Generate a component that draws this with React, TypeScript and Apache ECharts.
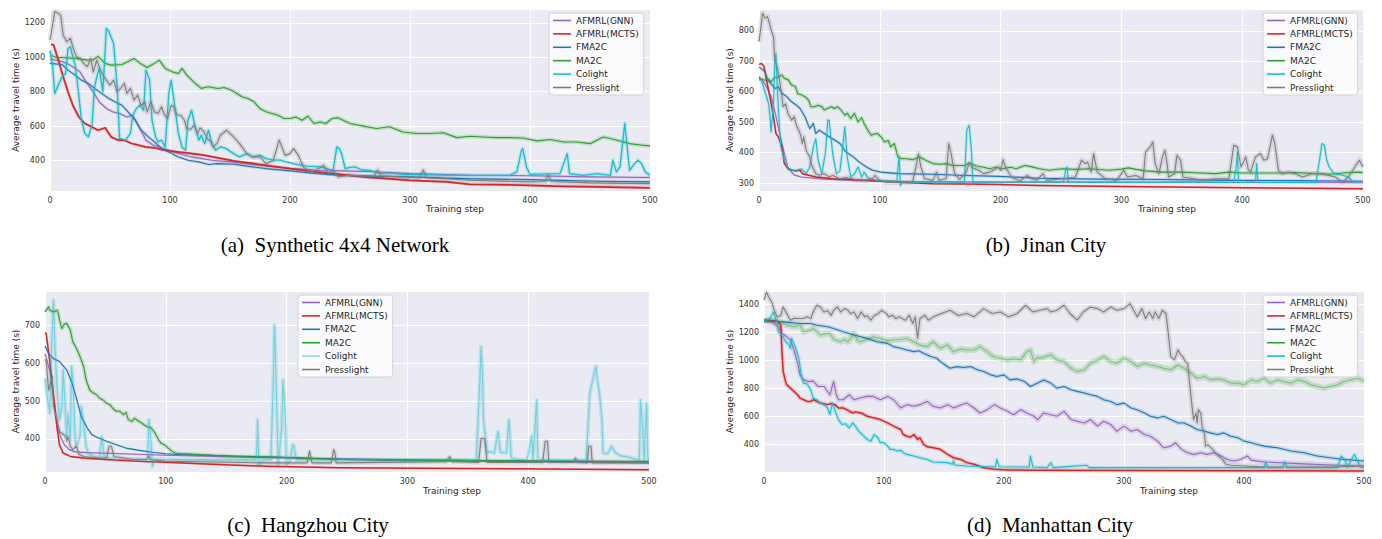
import React, { useEffect, useRef } from "react";
import * as echarts from "echarts";

type P = [number, number][];

const NAMES = ["AFMRL(GNN)", "AFMRL(MCTS)", "FMA2C", "MA2C", "Colight", "Presslight"];
const COLORS = ["#9467bd", "#d62728", "#1f77b4", "#2ca02c", "#17becf", "#7f7f7f"];
const CAPTIONS = ["(a)  Synthetic 4x4 Network", "(b)  Jinan City", "(c)  Hangzhou City", "(d)  Manhattan City"];
const X_TITLE = "Training step";
const Y_TITLE = "Average travel time (s)";
const X_TICKS = [0, 100, 200, 300, 400, 500];
const Y_TICK_STEP = [200, 100, 100, 200];

// ---------- (a) Synthetic 4x4 Network ----------
const A_GNN: P = [[0,990],[10,975],[15,960],[19,944],[25,915],[30,857],[36,799],[41,741],[47,702],[52,683],[58,673],[64,653],[69,663],[75,586],[80,518],[86,489],[91,479],[99,460],[107,441],[118,421],[129,408],[135,402],[150,392],[175,372],[200,355],[225,342],[245,340],[270,335],[300,324],[350,314],[400,312],[450,305],[500,301]];
const A_MCTS: P = [[1,1075],[3,1070],[7,983],[11,886],[15,799],[19,721],[24,653],[29,615],[35,595],[40,576],[46,590],[51,537],[57,518],[62,518],[68,499],[74,489],[79,479],[87,474],[95,460],[106,450],[117,441],[128,431],[153,398],[180,372],[200,353],[222,334],[242,320],[261,305],[300,285],[331,276],[350,262],[372,260],[400,256],[428,250],[456,247],[500,241]];
const A_FMA2C: P = [[0,964],[10,958],[15,925],[21,896],[26,867],[32,848],[37,819],[43,790],[49,760],[54,741],[60,721],[65,683],[71,634],[76,576],[82,537],[87,508],[93,470],[99,450],[107,421],[115,402],[124,392],[132,377],[139,382],[153,378],[169,363],[180,353],[200,340],[222,324],[242,314],[261,311],[300,305],[344,295],[400,289],[456,280],[500,276]];
const A_MA2C: P = [[0,1012],[5,1000],[12,997],[22,993],[31,983],[36,985],[40,1005],[46,964],[51,954],[60,958],[65,975],[70,993],[76,960],[81,940],[86,960],[91,983],[96,935],[102,915],[107,905],[110,935],[114,896],[121,848],[126,819],[132,828],[140,818],[145,824],[150,812],[155,792],[160,770],[165,760],[170,741],[175,702],[180,683],[185,673],[190,663],[195,644],[200,644],[205,653],[210,634],[215,657],[220,615],[225,624],[230,615],[235,644],[240,649],[250,615],[261,600],[272,586],[283,596],[294,566],[306,557],[317,557],[328,561],[339,533],[350,541],[361,537],[372,533],[383,533],[394,531],[406,514],[417,522],[428,508],[439,508],[450,498],[461,537],[467,528],[478,508],[483,498],[494,489],[500,485]];
const A_COL: P = [[0,1040],[2,960],[4,790],[7,838],[10,886],[13,905],[15,1051],[17,1060],[19,1000],[21,954],[24,780],[26,644],[29,557],[32,538],[35,605],[37,819],[39,886],[41,935],[44,800],[47,1167],[49,1150],[53,1080],[56,828],[58,528],[63,518],[67,557],[69,663],[72,702],[75,721],[78,692],[80,925],[83,870],[85,634],[88,537],[90,508],[93,518],[96,479],[99,789],[101,867],[104,712],[107,557],[110,479],[113,460],[115,634],[118,692],[121,595],[124,518],[126,547],[129,498],[132,576],[135,498],[138,460],[142,479],[147,469],[153,440],[158,421],[164,440],[169,421],[175,431],[180,411],[186,402],[192,402],[197,392],[203,382],[208,375],[214,367],[225,363],[230,355],[236,343],[239,479],[241,470],[243,440],[246,353],[250,360],[254,363],[260,345],[267,343],[275,324],[283,328],[294,320],[344,314],[383,314],[389,334],[393,460],[394,469],[397,363],[400,320],[425,324],[431,440],[433,324],[444,314],[456,324],[467,314],[469,402],[472,334],[475,363],[479,615],[481,479],[483,343],[487,380],[490,402],[493,382],[496,334],[500,314]];
const A_PRESS: P = [[0,1100],[4,1264],[7,1255],[9,1240],[11,1128],[14,1090],[17,1110],[19,1060],[22,1002],[25,995],[28,964],[31,945],[34,993],[36,915],[39,983],[42,925],[45,886],[48,857],[50,838],[53,867],[56,799],[59,820],[62,848],[64,790],[67,819],[70,751],[73,780],[76,721],[79,740],[81,683],[84,741],[87,683],[90,673],[93,712],[95,670],[98,644],[101,721],[103,712],[106,663],[109,663],[112,634],[114,586],[117,580],[120,605],[123,557],[125,590],[128,570],[131,528],[134,508],[136,479],[139,498],[142,547],[147,576],[153,537],[158,498],[164,440],[169,421],[175,421],[180,382],[186,400],[191,518],[196,430],[200,440],[203,469],[207,430],[211,363],[217,334],[222,345],[228,372],[232,324],[236,343],[240,305],[250,315],[260,310],[270,308],[273,345],[276,310],[300,302],[308,300],[311,345],[314,300],[350,285],[400,276],[413,278],[415,315],[418,278],[450,270],[500,266]];

// ---------- (b) Jinan City ----------
const B_GNN: P = [[0,650],[5,625],[10,585],[14,520],[17,465],[21,397],[24,350],[29,327],[35,320],[50,314],[80,308],[120,305],[200,303],[300,303],[400,302],[500,301]];
const B_MCTS: P = [[0,690],[2,693],[4,685],[6,644],[9,583],[12,518],[14,463],[16,452],[19,419],[21,364],[24,347],[30,340],[34,342],[36,331],[42,325],[47,320],[61,314],[89,309],[116,303],[144,298],[171,297],[199,295],[232,292],[300,289],[400,285],[500,281]];
const B_FMA2C: P = [[0,682],[5,666],[7,638],[10,627],[13,611],[16,616],[19,595],[23,584],[27,567],[31,556],[34,545],[38,518],[42,479],[45,496],[47,463],[50,474],[54,463],[58,452],[63,441],[67,430],[72,402],[78,386],[83,369],[89,353],[94,342],[101,336],[116,331],[144,329],[171,325],[199,322],[232,316],[279,313],[334,312],[389,309],[444,308],[500,306]];
const B_MA2C: P = [[0,644],[3,640],[5,638],[7,645],[10,633],[13,647],[16,649],[19,655],[21,644],[24,640],[27,622],[30,618],[32,594],[35,590],[38,584],[41,573],[43,551],[46,551],[49,556],[52,551],[54,540],[57,546],[60,551],[62,545],[65,551],[68,540],[71,523],[73,530],[76,512],[79,529],[82,501],[85,515],[87,496],[90,474],[93,457],[96,462],[98,463],[101,452],[104,435],[107,440],[109,419],[112,430],[115,386],[118,380],[122,380],[127,377],[133,386],[138,375],[144,364],[150,362],[155,364],[160,358],[166,358],[171,358],[174,367],[180,356],[186,352],[191,347],[196,352],[202,347],[208,352],[213,347],[220,358],[225,354],[232,347],[240,342],[251,347],[262,345],[273,347],[290,342],[300,346],[306,350],[312,345],[320,340],[334,336],[350,336],[361,334],[378,331],[389,336],[400,333],[417,333],[433,333],[444,335],[461,331],[472,329],[486,334],[497,336],[500,334]];
const B_COL: P = [[0,640],[2,638],[5,600],[8,560],[9,523],[10,468],[12,560],[13,680],[14,726],[15,620],[17,480],[18,419],[21,375],[25,342],[31,342],[35,347],[39,331],[42,353],[45,419],[47,446],[49,375],[52,331],[55,400],[57,507],[58,507],[61,397],[64,331],[67,340],[69,408],[71,485],[73,386],[76,320],[79,330],[82,353],[85,320],[87,336],[90,318],[95,312],[100,308],[114,306],[116,390],[117,292],[119,303],[170,303],[172,474],[174,490],[176,400],[177,303],[224,303],[252,303],[254,345],[255,353],[256,303],[317,302],[350,304],[393,302],[395,353],[396,400],[397,302],[411,304],[412,364],[413,302],[461,302],[464,375],[466,430],[468,425],[470,375],[472,353],[475,336],[478,330],[483,326],[488,320],[492,303],[500,305]];
const B_PRESS: P = [[0,765],[3,858],[5,842],[7,847],[9,820],[10,803],[12,781],[13,704],[15,682],[17,638],[19,583],[20,551],[22,560],[24,529],[27,507],[29,518],[31,490],[34,463],[36,430],[37,452],[39,408],[42,386],[43,365],[45,347],[47,331],[50,326],[54,331],[58,320],[61,325],[67,314],[72,318],[80,312],[89,309],[94,315],[96,325],[99,312],[105,303],[127,303],[130,353],[132,397],[134,353],[137,315],[144,309],[147,336],[149,309],[155,315],[157,430],[159,397],[162,331],[166,312],[171,331],[174,364],[177,350],[182,342],[186,331],[191,336],[194,342],[198,353],[200,342],[202,377],[204,353],[209,320],[216,307],[222,325],[225,315],[230,309],[235,331],[238,309],[252,314],[262,320],[265,353],[267,375],[270,364],[272,369],[275,336],[277,397],[280,336],[287,314],[296,309],[302,342],[305,320],[312,325],[318,314],[320,402],[324,420],[326,435],[328,364],[331,331],[334,386],[336,408],[338,360],[339,320],[344,331],[346,391],[349,375],[351,320],[360,314],[367,309],[378,314],[389,314],[393,424],[396,419],[399,353],[403,386],[405,346],[407,336],[411,386],[415,397],[418,375],[421,380],[423,419],[425,457],[427,430],[430,342],[433,331],[438,336],[444,331],[450,320],[458,331],[465,331],[472,325],[477,320],[483,303],[488,320],[494,358],[497,375],[500,353]];

// ---------- (c) Hangzhou City ----------
const C_GNN: P = [[0,625],[4,580],[7,510],[10,440],[13,405],[16,385],[20,372],[25,366],[35,364],[45,363],[100,357],[150,353],[200,350],[245,346],[300,343],[400,340],[500,337]];
const C_MCTS: P = [[0,680],[1,678],[4,604],[7,516],[10,429],[12,385],[15,363],[21,354],[32,350],[50,346],[78,341],[105,338],[128,335],[183,328],[244,324],[346,322],[500,319]];
const C_FMA2C: P = [[0,645],[3,625],[7,612],[12,604],[18,582],[22,551],[26,508],[30,459],[35,429],[39,411],[44,403],[51,394],[59,385],[67,376],[78,370],[89,365],[100,361],[111,359],[133,357],[180,353],[236,348],[300,345],[400,342],[500,339]];
const C_MA2C: P = [[0,735],[3,748],[4,739],[7,735],[10,739],[11,731],[12,713],[14,691],[16,703],[18,704],[21,687],[23,656],[26,639],[29,617],[32,591],[34,556],[37,529],[40,521],[43,516],[45,508],[48,503],[51,494],[54,490],[56,481],[59,473],[62,473],[65,464],[67,470],[69,451],[72,446],[74,455],[77,448],[80,442],[84,433],[88,429],[91,416],[94,398],[96,389],[99,385],[102,376],[105,368],[108,363],[112,361],[117,361],[128,359],[156,354],[183,353],[211,350],[244,346],[346,343],[400,342],[500,341]];
const C_COL: P = [[0,560],[1,529],[4,468],[5,599],[7,766],[8,661],[10,529],[12,451],[14,486],[15,582],[17,468],[18,407],[19,468],[21,398],[22,591],[23,556],[25,398],[26,381],[29,407],[30,486],[32,442],[34,381],[36,363],[40,354],[45,350],[47,407],[49,352],[53,350],[59,346],[85,346],[86,451],[87,420],[89,328],[91,346],[175,345],[176,451],[177,330],[180,345],[187,345],[189,556],[190,700],[192,468],[193,330],[196,433],[197,556],[199,451],[200,330],[203,345],[205,385],[206,382],[208,345],[236,346],[263,346],[302,344],[332,346],[354,344],[357,346],[360,556],[361,643],[362,580],[363,450],[366,363],[368,367],[372,363],[375,420],[377,365],[382,363],[384,451],[386,350],[392,346],[399,344],[403,407],[404,345],[407,503],[408,345],[429,344],[448,344],[451,521],[454,564],[456,591],[457,560],[459,521],[461,451],[462,363],[466,362],[469,381],[472,364],[476,356],[484,352],[492,344],[493,503],[495,420],[496,344],[498,494],[499,350],[500,345]];
const C_PRESS: P = [[0,610],[1,604],[3,529],[4,540],[6,565],[7,486],[10,451],[12,420],[14,415],[17,407],[18,395],[19,407],[21,381],[23,372],[26,381],[28,360],[32,354],[45,350],[51,350],[53,381],[55,381],[57,354],[73,346],[84,346],[86,355],[87,346],[100,341],[128,340],[183,337],[217,337],[219,368],[221,337],[237,337],[239,372],[240,365],[241,337],[332,340],[335,354],[337,340],[359,338],[361,402],[364,400],[366,338],[412,338],[414,394],[416,394],[417,338],[438,338],[439,350],[441,338],[449,337],[450,381],[452,381],[453,337],[500,337]];

// ---------- (d) Manhattan City ----------
const D_GNN: P = [[0,1280],[2,1280],[7,1270],[12,1239],[15,1191],[19,1168],[22,1144],[25,1073],[28,978],[30,895],[33,859],[37,847],[41,850],[45,812],[50,812],[53,776],[55,753],[58,847],[60,760],[62,717],[66,717],[71,753],[75,717],[80,729],[86,741],[91,741],[97,717],[103,741],[108,717],[114,658],[119,682],[125,670],[130,682],[136,705],[141,670],[147,658],[153,682],[158,658],[164,680],[169,693],[175,658],[180,622],[186,646],[192,682],[197,658],[203,634],[208,610],[214,646],[219,622],[225,599],[228,575],[233,622],[239,610],[244,599],[250,634],[256,575],[261,563],[267,551],[272,575],[278,528],[283,563],[289,539],[294,492],[300,528],[306,492],[311,504],[317,468],[322,456],[328,421],[333,373],[339,385],[343,409],[348,362],[353,338],[358,326],[364,338],[369,326],[375,338],[381,314],[386,290],[392,279],[397,290],[403,314],[406,285],[417,272],[445,260],[472,250],[500,243]];
const D_MCTS: P = [[0,1286],[2,1286],[11,1280],[14,1251],[15,1061],[16,919],[18,847],[19,824],[22,800],[25,776],[28,753],[30,729],[33,717],[36,705],[39,705],[41,717],[44,705],[47,693],[53,682],[56,690],[59,682],[62,658],[66,658],[69,646],[74,622],[76,630],[81,622],[86,599],[92,587],[97,575],[103,551],[108,528],[111,516],[114,504],[116,468],[119,456],[122,450],[125,468],[128,433],[130,445],[133,397],[136,380],[141,373],[147,362],[153,326],[158,302],[164,290],[169,267],[175,255],[183,231],[192,219],[203,215],[225,212],[300,210],[400,209],[500,208]];
const D_FMA2C: P = [[0,1281],[16,1274],[30,1262],[39,1262],[44,1250],[53,1239],[58,1227],[66,1203],[75,1180],[86,1156],[94,1132],[103,1120],[108,1097],[114,1085],[119,1073],[125,1061],[129,1068],[133,1049],[139,1026],[144,1014],[147,990],[151,966],[155,942],[161,954],[166,948],[172,954],[178,931],[183,919],[189,895],[194,883],[200,895],[205,859],[211,866],[217,848],[222,812],[228,836],[233,859],[239,836],[244,800],[250,812],[256,788],[261,777],[267,765],[272,753],[278,741],[283,717],[289,705],[294,682],[300,693],[306,658],[311,646],[317,622],[322,599],[328,587],[333,599],[339,575],[345,551],[350,551],[356,528],[361,504],[367,492],[372,480],[378,468],[383,480],[389,456],[395,445],[400,421],[406,409],[411,397],[417,385],[428,373],[439,350],[450,338],[461,314],[472,302],[483,290],[500,279]];
const D_MA2C: P = [[0,1286],[2,1286],[8,1282],[14,1274],[19,1251],[25,1239],[30,1250],[33,1203],[39,1215],[41,1227],[47,1180],[52,1190],[55,1190],[58,1150],[64,1132],[67,1150],[70,1132],[75,1190],[78,1140],[80,1132],[86,1150],[91,1167],[97,1155],[103,1140],[108,1144],[114,1148],[119,1155],[125,1130],[130,1108],[136,1097],[141,1132],[147,1085],[153,1110],[158,1061],[164,1080],[169,1073],[175,1073],[180,1097],[186,1061],[191,1026],[197,1014],[203,1002],[208,1010],[214,1002],[219,1061],[222,1073],[225,990],[228,1020],[230,1014],[239,1038],[244,1002],[250,990],[256,942],[261,919],[267,931],[272,978],[278,1002],[283,1026],[289,990],[294,978],[300,1014],[306,990],[311,955],[317,978],[322,966],[328,955],[333,942],[339,931],[345,966],[350,942],[356,907],[361,871],[367,883],[372,859],[378,866],[383,859],[389,836],[395,836],[400,824],[406,859],[411,848],[417,871],[422,836],[428,859],[433,848],[439,836],[445,859],[450,848],[456,824],[461,812],[467,800],[472,812],[478,824],[483,848],[489,859],[495,871],[500,848]];
const D_COL: P = [[0,1286],[2,1286],[5,1300],[8,1345],[11,1262],[12,1203],[15,1180],[18,1132],[21,1109],[22,1085],[23,1156],[26,1097],[29,1014],[31,895],[33,836],[36,830],[39,788],[41,729],[44,717],[47,693],[50,682],[53,658],[55,611],[57,693],[60,620],[62,575],[65,540],[68,545],[71,516],[74,551],[76,530],[79,492],[82,468],[86,433],[89,421],[92,468],[95,445],[97,409],[100,410],[103,385],[105,362],[108,362],[111,350],[114,355],[116,338],[119,326],[125,314],[130,302],[136,290],[141,272],[153,267],[157,255],[158,279],[159,250],[169,243],[183,238],[193,238],[194,290],[196,238],[211,236],[221,236],[222,314],[224,236],[236,231],[239,267],[241,231],[269,248],[271,231],[333,231],[417,231],[418,272],[420,231],[432,231],[434,272],[436,231],[478,231],[481,314],[484,290],[486,235],[489,280],[492,326],[494,290],[497,235],[500,235]];
const D_PRESS: P = [[0,1430],[2,1487],[4,1452],[7,1405],[8,1369],[11,1310],[14,1320],[16,1381],[19,1333],[22,1286],[25,1300],[28,1298],[33,1298],[36,1310],[39,1298],[41,1345],[44,1393],[47,1380],[50,1345],[53,1355],[56,1321],[58,1357],[61,1381],[64,1345],[67,1369],[70,1357],[72,1333],[75,1345],[78,1298],[81,1345],[84,1310],[86,1320],[89,1286],[92,1320],[95,1333],[98,1357],[102,1333],[104,1310],[107,1321],[110,1298],[113,1310],[115,1298],[118,1286],[121,1321],[124,1262],[126,1310],[128,1157],[130,1298],[134,1321],[137,1286],[141,1310],[148,1334],[155,1357],[162,1320],[169,1334],[175,1310],[183,1369],[190,1334],[197,1345],[204,1310],[211,1334],[218,1393],[224,1345],[230,1357],[236,1369],[239,1345],[244,1357],[250,1393],[255,1334],[261,1286],[266,1345],[272,1381],[278,1369],[283,1345],[289,1381],[294,1357],[300,1369],[305,1405],[308,1357],[311,1310],[315,1369],[318,1298],[321,1345],[324,1298],[326,1345],[329,1298],[332,1357],[335,1334],[336,1262],[339,1026],[342,1002],[345,1073],[347,1040],[349,1026],[351,990],[353,978],[355,812],[357,646],[358,575],[360,622],[361,551],[362,646],[364,620],[365,528],[367,480],[368,385],[370,395],[371,385],[374,362],[376,338],[379,314],[382,290],[385,255],[389,248],[400,243],[417,236],[445,236],[472,236],[500,243]];

const PANEL_SERIES: P[][] = [
  [A_GNN, A_MCTS, A_FMA2C, A_MA2C, A_COL, A_PRESS],
  [B_GNN, B_MCTS, B_FMA2C, B_MA2C, B_COL, B_PRESS],
  [C_GNN, C_MCTS, C_FMA2C, C_MA2C, C_COL, C_PRESS],
  [D_GNN, D_MCTS, D_FMA2C, D_MA2C, D_COL, D_PRESS],
];
const Y_RANGES: [number, number][] = [[223, 1280], [274, 872], [313, 790], [200, 1495]];

// layout (pixels)
const GRIDS = [
  { left: 50, top: 9, width: 600, height: 182 },
  { left: 759, top: 9, width: 604, height: 182 },
  { left: 45, top: 291, width: 604, height: 181 },
  { left: 764, top: 291, width: 600, height: 181 },
];
const NAME_GAPS = [27, 22, 22, 25];
const LEGEND_POS = [{ left: 549, top: 13 }, { left: 1263, top: 13 }, { left: 298, top: 295 }, { left: 1263, top: 295 }];
const X_TITLE_POS = [[455, 209], [1167, 209], [452, 491], [1169, 491]];
const CAPTION_POS = [[335, 245], [1046, 245], [308, 525], [1050, 525]];
const LINE_W = [
  [1.1, 1.7, 1.1, 1.1, 1.3, 1.1],
  [1.1, 1.5, 1.1, 1.1, 1.1, 1.1],
  [1.1, 1.5, 1.1, 1.1, 1.1, 1.1],
  [1.1, 1.5, 1.1, 1.1, 1.1, 1.1],
];
const LINE_OP = [
  [1, 1, 1, 1, 1, 1],
  [1, 1, 1, 1, 1, 1],
  [1, 1, 1, 1, 0.45, 1],
  [1, 1, 1, 0.45, 1, 1],
];
const BAND_W = [
  [3, 3, 3, 4, 4, 5],
  [2, 2, 3, 4, 3, 5],
  [2, 2, 2, 4, 4, 4],
  [5, 4, 4, 6, 4, 5],
];

export default function App() {
  const ref = useRef<HTMLDivElement>(null);
  useEffect(() => {
    if (!ref.current) return;
    const chart = echarts.init(ref.current, undefined, { renderer: "svg" });
    const font = "DejaVu Sans";
    const bands: any[] = [];
    const lines: any[] = [];
    PANEL_SERIES.forEach((arr, p) => {
      arr.forEach((data, k) => {
        bands.push({
          type: "line",
          name: "band-" + p + "-" + k,
          xAxisIndex: p,
          yAxisIndex: p,
          data,
          symbol: "none",
          silent: true,
          z: 1,
          lineStyle: { color: COLORS[k], width: BAND_W[p][k], opacity: 0.2, join: "round" },
        });
        lines.push({
          type: "line",
          name: NAMES[k],
          xAxisIndex: p,
          yAxisIndex: p,
          data,
          symbol: "none",
          z: 2,
          lineStyle: { color: COLORS[k], width: LINE_W[p][k], opacity: LINE_OP[p][k], join: "round" },
          itemStyle: { color: COLORS[k] },
        });
      });
    });
    const graphic: any[] = [];
    X_TITLE_POS.forEach(([x, y]) => {
      graphic.push({
        type: "text", x, y, silent: true,
        style: { text: X_TITLE, fontSize: 9, fontFamily: font, fill: "#262626", align: "center", verticalAlign: "middle" },
      });
    });
    CAPTION_POS.forEach(([x, y], i) => {
      graphic.push({
        type: "text", x, y, silent: true,
        style: { text: CAPTIONS[i], fontSize: 21, fontFamily: "Liberation Serif", fill: "#000", align: "center", verticalAlign: "middle" },
      });
    });
    const option: any = {
      animation: false,
      backgroundColor: "#ffffff",
      textStyle: { fontFamily: font },
      grid: GRIDS.map((g) => ({ ...g, show: true, backgroundColor: "#EAEAF2", borderWidth: 0 })),
      xAxis: GRIDS.map((_, i) => ({
        type: "value", gridIndex: i, min: X_TICKS[0], max: X_TICKS[X_TICKS.length - 1], interval: 100,
        axisLine: { show: false }, axisTick: { show: false },
        splitLine: { show: true, lineStyle: { color: "#ffffff", width: 1 } },
        axisLabel: { fontSize: 8, color: "#333", margin: 5, fontFamily: font },
      })),
      yAxis: GRIDS.map((_, i) => ({
        type: "value", gridIndex: i, min: Y_RANGES[i][0], max: Y_RANGES[i][1],
        splitNumber: 5,
        ...(Y_RANGES[i][0] % Y_TICK_STEP[i] === 0 ? { interval: Y_TICK_STEP[i] } : {}),
        name: Y_TITLE, nameLocation: "middle", nameGap: NAME_GAPS[i],
        nameTextStyle: { fontSize: 9, color: "#262626", fontFamily: font },
        axisLine: { show: false }, axisTick: { show: false },
        splitLine: { show: true, lineStyle: { color: "#ffffff", width: 1 } },
        axisLabel: {
          fontSize: 8, color: "#333", margin: 5, fontFamily: font, showMinLabel: false, showMaxLabel: false,
          formatter: (v: number) => (v % Y_TICK_STEP[i] === 0 ? String(v) : ""),
        },
      })),
      legend: LEGEND_POS.map((pos, i) => ({
        ...pos,
        orient: "vertical",
        icon: "rect",
        data: NAMES.map((n, k) => ({
          name: n,
          itemStyle: { color: COLORS[k], opacity: LINE_OP[i][k] === 1 || i === 3 ? 1 : 0.5 },
        })),
        itemWidth: 18, itemHeight: 1.6, itemGap: 2.4, itemTextGap: 7,
        padding: [2, 5, 2, 4],
        backgroundColor: "rgba(255,255,255,0.8)",
        borderColor: "#cccccc", borderWidth: 0.8, borderRadius: 3,
        textStyle: { fontSize: 9, color: "#262626", fontFamily: font, lineHeight: 11 },
        selectedMode: false,
      })),
      series: [...bands, ...lines],
      graphic,
    };
    chart.setOption(option);
    return () => chart.dispose();
  }, []);
  return <div ref={ref} style={{ position: "fixed", left: 0, top: 0, width: 1382, height: 539 }} />;
}
